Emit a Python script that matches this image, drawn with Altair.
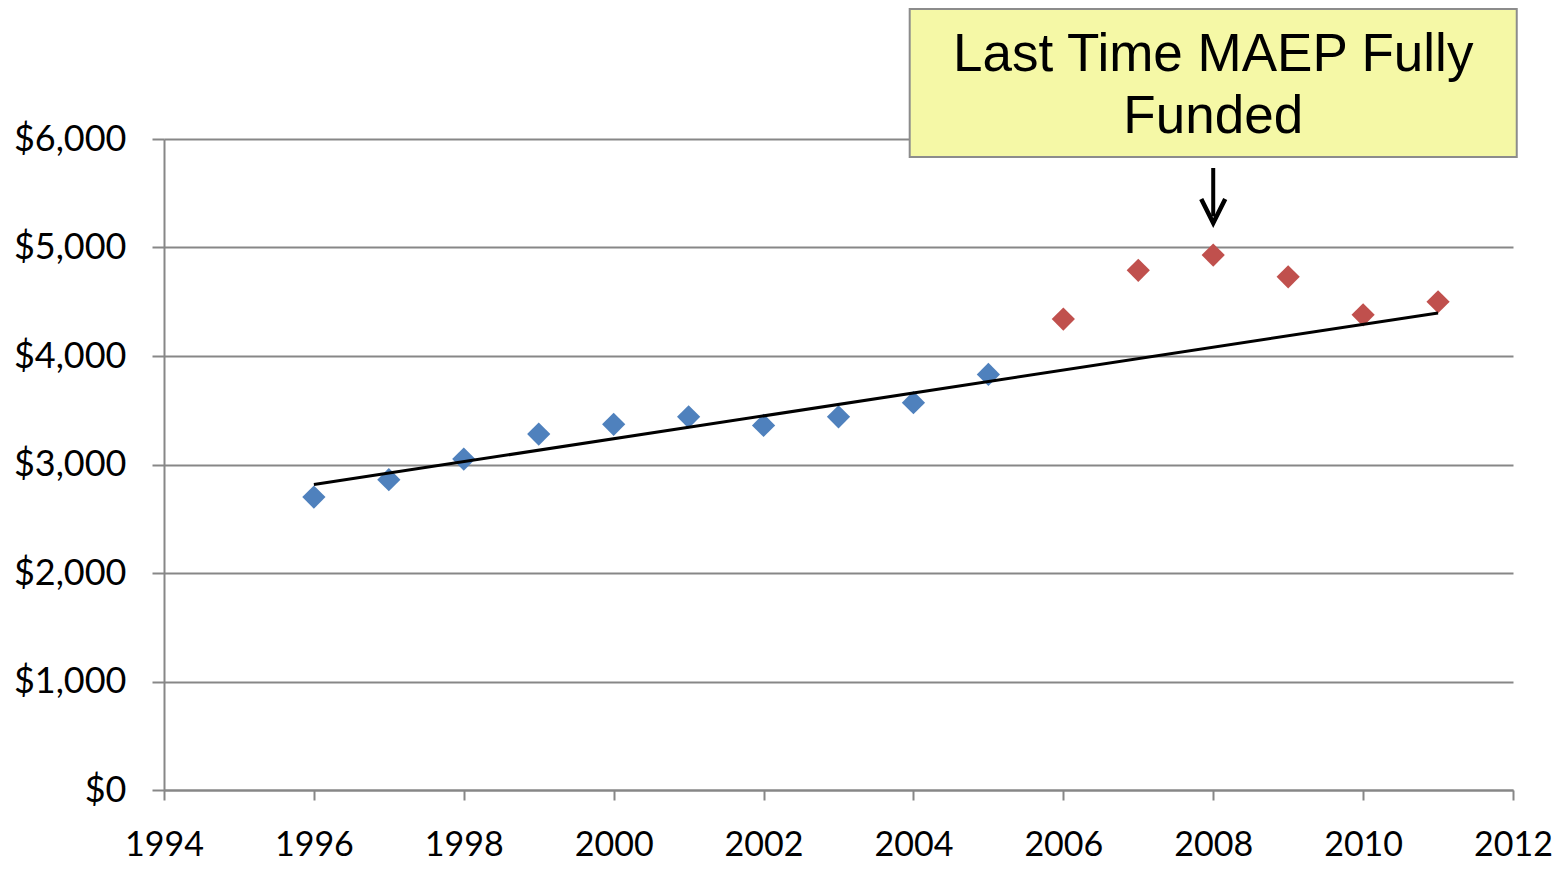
import altair as alt
import pandas as pd

# ---- data ----
years = list(range(1996, 2012))
spending = [2700, 2860, 3050, 3280, 3370, 3440, 3360, 3440, 3570, 3830,
            4340, 4790, 4930, 4730, 4380, 4500]
period = ["Before"] * 10 + ["After"] * 6

x_ticks = list(range(1994, 2013, 2))
y_ticks = list(range(0, 6001, 1000))

note_lines = ["Last Time MAEP Fully", "Funded"]
note_line_values = [6630, 6053]          # baselines in $ units
note_year = 2008
note_box_x = [2003.95, 2012.05]
note_box_y = [5834, 7198]
arrow_top = 5733
arrow_tip = 5226

BLUE = "#4F81BD"
RED = "#C0504D"
GRID = "#878787"

df = pd.DataFrame({"year": years, "value": spending, "period": period})

x_scale = alt.Scale(domain=[1994, 2012], nice=False, zero=False)
y_scale = alt.Scale(domain=[0, 6000], nice=False)

x_axis = alt.Axis(values=x_ticks, format="d", title=None, grid=False,
                  labelFont="Lato", labelFontSize=34, labelColor="black",
                  labelPadding=28, tickSize=10, tickColor=GRID, tickWidth=2,
                  domainColor=GRID, domainWidth=2, labelFlush=False)
y_axis = alt.Axis(values=y_ticks, format="$,.0f", title=None, grid=True,
                  gridColor=GRID, gridWidth=2,
                  labelFont="Lato", labelFontSize=36, labelColor="black",
                  labelPadding=26, tickSize=12, tickColor=GRID, tickWidth=2,
                  domainColor=GRID, domainWidth=2)

base = alt.Chart(df)

points = base.mark_point(shape="diamond", filled=True, size=540, opacity=1).encode(
    x=alt.X("year:Q", scale=x_scale, axis=x_axis),
    y=alt.Y("value:Q", scale=y_scale, axis=y_axis),
    color=alt.Color("period:N", scale=alt.Scale(domain=["Before", "After"], range=[BLUE, RED]),
                    legend=None),
)

trend = base.transform_filter(alt.datum.period == "Before").transform_regression(
    "year", "value", extent=[1996, 2011]
).mark_line(color="black", strokeWidth=3).encode(
    x=alt.X("year:Q", scale=x_scale),
    y=alt.Y("value:Q", scale=y_scale),
)

box_df = pd.DataFrame({"x": [note_box_x[0]], "x2": [note_box_x[1]],
                       "y": [note_box_y[0]], "y2": [note_box_y[1]]})
box = alt.Chart(box_df).mark_rect(fill="#F5F8A6", stroke="#8C8C8C", strokeWidth=2).encode(
    x=alt.X("x:Q", scale=x_scale), x2="x2:Q",
    y=alt.Y("y:Q", scale=y_scale), y2="y2:Q",
)

text_df = pd.DataFrame({"x": [note_year] * 2, "y": note_line_values, "t": note_lines})
note = alt.Chart(text_df).mark_text(font="Liberation Sans", fontSize=53, color="black",
                                    baseline="alphabetic", align="center").encode(
    x=alt.X("x:Q", scale=x_scale), y=alt.Y("y:Q", scale=y_scale), text="t:N"
)

shaft_df = pd.DataFrame({"x": [note_year], "y": [arrow_top], "y2": [arrow_tip + 60]})
shaft = alt.Chart(shaft_df).mark_rule(color="black", strokeWidth=4).encode(
    x=alt.X("x:Q", scale=x_scale), y=alt.Y("y:Q", scale=y_scale), y2="y2:Q"
)
head_df = pd.DataFrame({"x": [note_year], "y": [arrow_tip]})
head = alt.Chart(head_df).mark_point(shape="M-0.5,-1L0,0L0.5,-1", filled=False,
                                     color="black", strokeWidth=4.5, size=2304, opacity=1).encode(
    x=alt.X("x:Q", scale=x_scale), y=alt.Y("y:Q", scale=y_scale)
)

chart = alt.layer(points, trend, box, note, shaft, head).properties(
    width=1349, height=651,
    autosize=alt.AutoSizeParams(type="none"),
    padding={"left": 156, "top": 131, "right": 41, "bottom": 73},
).configure_view(stroke=None)

chart.save("out.html", embed_options={"renderer": "svg", "actions": False})
